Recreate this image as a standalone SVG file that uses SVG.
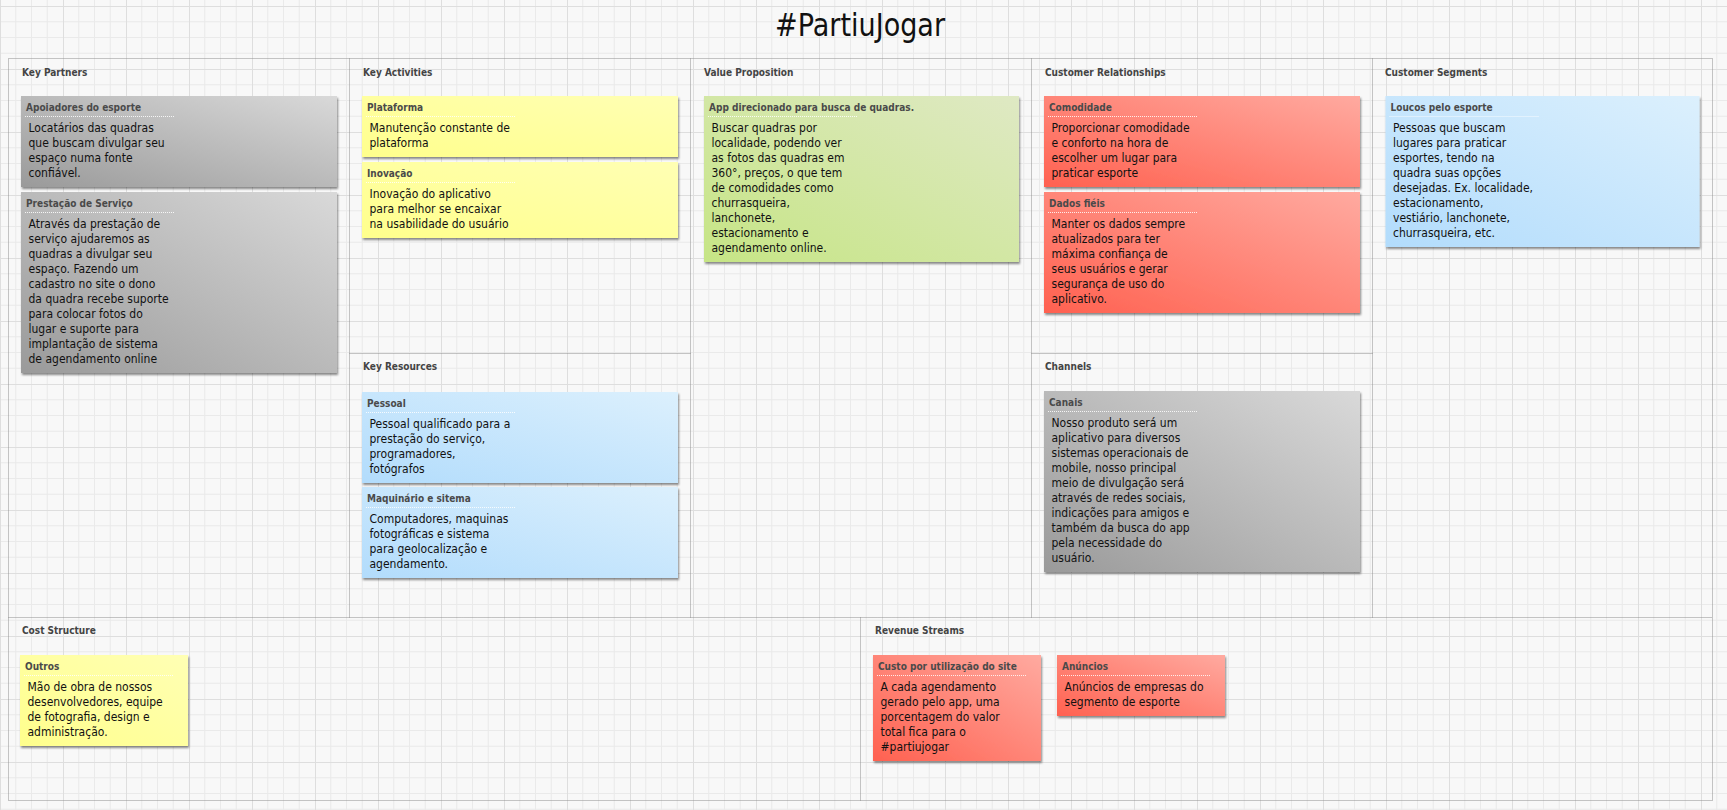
<svg xmlns="http://www.w3.org/2000/svg" width="1727" height="810" viewBox="0 0 1727 810">
<defs>
<pattern id="grid" patternUnits="userSpaceOnUse" x="0" y="6" width="63" height="63">
<rect width="63" height="63" fill="#f8f8f8"/>
<path d="M15.75 0V63M31.5 0V63M47.25 0V63M0 15.75H63M0 31.5H63M0 47.25H63" stroke="#eaeaea" stroke-width="1" fill="none"/>
<path d="M0.5 0V63M0 0.5H63" stroke="#dedede" stroke-width="1" fill="none"/>
</pattern>
<linearGradient id="gGrey" x1="0" y1="1" x2="1" y2="0"><stop offset="0" stop-color="#9a9a9a"/><stop offset="1" stop-color="#d9d9d9"/></linearGradient>
<linearGradient id="gYellow" x1="0" y1="1" x2="1" y2="0"><stop offset="0" stop-color="#ffff8c"/><stop offset="1" stop-color="#ffffb4"/></linearGradient>
<linearGradient id="gGreen" x1="0" y1="1" x2="1" y2="0"><stop offset="0" stop-color="#c6e585"/><stop offset="1" stop-color="#dfe9c4"/></linearGradient>
<linearGradient id="gRed" x1="0" y1="1" x2="1" y2="0"><stop offset="0" stop-color="#ff6150"/><stop offset="1" stop-color="#ffaaa0"/></linearGradient>
<linearGradient id="gBlue" x1="0" y1="1" x2="1" y2="0"><stop offset="0" stop-color="#b2dcfc"/><stop offset="1" stop-color="#dcf0fd"/></linearGradient>
<filter id="shadow" x="-5%" y="-5%" width="112%" height="120%">
<feDropShadow dx="1" dy="2" stdDeviation="1.2" flood-color="#000" flood-opacity="0.45"/>
</filter>
</defs>
<style>
.sec{fill:none;stroke:#8f8f8f;stroke-width:1;stroke-dasharray:1 1}
.lbl{font-family:"DejaVu Sans Condensed","DejaVu Sans",sans-serif;font-stretch:condensed;font-weight:bold;font-size:10px;fill:#444}
.hd{font-family:"DejaVu Sans Condensed","DejaVu Sans",sans-serif;font-stretch:condensed;font-weight:bold;font-size:10px;fill:#4a4a4a}
.bd{font-family:"DejaVu Sans Condensed","DejaVu Sans",sans-serif;font-stretch:condensed;font-size:12px;fill:#111}
.sep{stroke:#ffffff;stroke-opacity:0.85;stroke-width:1;stroke-dasharray:1 1}
.card{filter:url(#shadow)}
.title{font-family:"DejaVu Sans",sans-serif;font-weight:normal;font-size:32px;fill:#111}
</style>
<rect width="1727" height="810" fill="url(#grid)"/>
<text class="title" x="775" y="36" textLength="170" lengthAdjust="spacingAndGlyphs">#PartiuJogar</text>

<g id="sections">
<rect class="sec" x="8.5" y="58.5" width="1704" height="742"/>
<path class="sec" d="M349.5 58.5V617.5M690.5 58.5V617.5M1031.5 58.5V617.5M1372.5 58.5V617.5M8.5 617.5H1712.5M349.5 353.5H690.5M1031.5 353.5H1372.5M860.5 617.5V800.5"/>
<text class="lbl" x="22" y="75.5">Key Partners</text>
<text class="lbl" x="363" y="75.5">Key Activities</text>
<text class="lbl" x="704" y="75.5">Value Proposition</text>
<text class="lbl" x="1045" y="75.5">Customer Relationships</text>
<text class="lbl" x="1385" y="75.5">Customer Segments</text>
<text class="lbl" x="363" y="370">Key Resources</text>
<text class="lbl" x="1045" y="370">Channels</text>
<text class="lbl" x="22" y="634">Cost Structure</text>
<text class="lbl" x="875" y="634">Revenue Streams</text>
</g>

<g id="kp1">
<rect class="card" x="21" y="96" width="316" height="91" fill="url(#gGrey)"/>
<text class="hd" x="26" y="110.5">Apoiadores do esporte</text>
<line class="sep" x1="25" y1="116.5" x2="174" y2="116.5"/>
<text class="bd"><tspan x="28.5" y="132">Locatários das quadras</tspan><tspan x="28.5" y="147">que buscam divulgar seu</tspan><tspan x="28.5" y="162">espaço numa fonte</tspan><tspan x="28.5" y="177">confiável.</tspan></text>
</g>

<g id="kp2">
<rect class="card" x="21" y="192" width="316" height="181" fill="url(#gGrey)"/>
<text class="hd" x="26" y="206.5">Prestação de Serviço</text>
<line class="sep" x1="25" y1="212.5" x2="174" y2="212.5"/>
<text class="bd"><tspan x="28.5" y="228">Através da prestação de</tspan><tspan x="28.5" y="243">serviço ajudaremos as</tspan><tspan x="28.5" y="258">quadras a divulgar seu</tspan><tspan x="28.5" y="273">espaço. Fazendo um</tspan><tspan x="28.5" y="288">cadastro no site o dono</tspan><tspan x="28.5" y="303">da quadra recebe suporte</tspan><tspan x="28.5" y="318">para colocar fotos do</tspan><tspan x="28.5" y="333">lugar e suporte para</tspan><tspan x="28.5" y="348">implantação de sistema</tspan><tspan x="28.5" y="363">de agendamento online</tspan></text>
</g>

<g id="ka1">
<rect class="card" x="362" y="96" width="316" height="61" fill="url(#gYellow)"/>
<text class="hd" x="367" y="110.5">Plataforma</text>
<line class="sep" x1="366" y1="116.5" x2="515" y2="116.5"/>
<text class="bd"><tspan x="369.5" y="132">Manutenção constante de</tspan><tspan x="369.5" y="147">plataforma</tspan></text>
</g>

<g id="ka2">
<rect class="card" x="362" y="162" width="316" height="76" fill="url(#gYellow)"/>
<text class="hd" x="367" y="176.5">Inovação</text>
<line class="sep" x1="366" y1="182.5" x2="515" y2="182.5"/>
<text class="bd"><tspan x="369.5" y="198">Inovação do aplicativo</tspan><tspan x="369.5" y="213">para melhor se encaixar</tspan><tspan x="369.5" y="228">na usabilidade do usuário</tspan></text>
</g>

<g id="vp1">
<rect class="card" x="704" y="96" width="315" height="166" fill="url(#gGreen)"/>
<text class="hd" x="709" y="110.5">App direcionado para busca de quadras.</text>
<line class="sep" x1="708" y1="116.5" x2="857" y2="116.5"/>
<text class="bd"><tspan x="711.5" y="132">Buscar quadras por</tspan><tspan x="711.5" y="147">localidade, podendo ver</tspan><tspan x="711.5" y="162">as fotos das quadras em</tspan><tspan x="711.5" y="177">360°, preços, o que tem</tspan><tspan x="711.5" y="192">de comodidades como</tspan><tspan x="711.5" y="207">churrasqueira,</tspan><tspan x="711.5" y="222">lanchonete,</tspan><tspan x="711.5" y="237">estacionamento e</tspan><tspan x="711.5" y="252">agendamento online.</tspan></text>
</g>

<g id="cr1">
<rect class="card" x="1044" y="96" width="316" height="91" fill="url(#gRed)"/>
<text class="hd" x="1049" y="110.5">Comodidade</text>
<line class="sep" x1="1048" y1="116.5" x2="1197" y2="116.5"/>
<text class="bd"><tspan x="1051.5" y="132">Proporcionar comodidade</tspan><tspan x="1051.5" y="147">e conforto na hora de</tspan><tspan x="1051.5" y="162">escolher um lugar para</tspan><tspan x="1051.5" y="177">praticar esporte</tspan></text>
</g>

<g id="cr2">
<rect class="card" x="1044" y="192" width="316" height="121" fill="url(#gRed)"/>
<text class="hd" x="1049" y="206.5">Dados fiéis</text>
<line class="sep" x1="1048" y1="212.5" x2="1197" y2="212.5"/>
<text class="bd"><tspan x="1051.5" y="228">Manter os dados sempre</tspan><tspan x="1051.5" y="243">atualizados para ter</tspan><tspan x="1051.5" y="258">máxima confiança de</tspan><tspan x="1051.5" y="273">seus usuários e gerar</tspan><tspan x="1051.5" y="288">segurança de uso do</tspan><tspan x="1051.5" y="303">aplicativo.</tspan></text>
</g>

<g id="cs1">
<rect class="card" x="1385.5" y="96" width="314" height="151" fill="url(#gBlue)"/>
<text class="hd" x="1390.5" y="110.5">Loucos pelo esporte</text>
<line class="sep" x1="1389.5" y1="116.5" x2="1538.5" y2="116.5"/>
<text class="bd"><tspan x="1393" y="132">Pessoas que buscam</tspan><tspan x="1393" y="147">lugares para praticar</tspan><tspan x="1393" y="162">esportes, tendo na</tspan><tspan x="1393" y="177">quadra suas opções</tspan><tspan x="1393" y="192">desejadas. Ex. localidade,</tspan><tspan x="1393" y="207">estacionamento,</tspan><tspan x="1393" y="222">vestiário, lanchonete,</tspan><tspan x="1393" y="237">churrasqueira, etc.</tspan></text>
</g>

<g id="kr1">
<rect class="card" x="362" y="392" width="316" height="91" fill="url(#gBlue)"/>
<text class="hd" x="367" y="406.5">Pessoal</text>
<line class="sep" x1="366" y1="412.5" x2="515" y2="412.5"/>
<text class="bd"><tspan x="369.5" y="428">Pessoal qualificado para a</tspan><tspan x="369.5" y="443">prestação do serviço,</tspan><tspan x="369.5" y="458">programadores,</tspan><tspan x="369.5" y="473">fotógrafos</tspan></text>
</g>

<g id="kr2">
<rect class="card" x="362" y="487" width="316" height="91" fill="url(#gBlue)"/>
<text class="hd" x="367" y="501.5">Maquinário e sitema</text>
<line class="sep" x1="366" y1="507.5" x2="515" y2="507.5"/>
<text class="bd"><tspan x="369.5" y="523">Computadores, maquinas</tspan><tspan x="369.5" y="538">fotográficas e sistema</tspan><tspan x="369.5" y="553">para geolocalização e</tspan><tspan x="369.5" y="568">agendamento.</tspan></text>
</g>

<g id="ch1">
<rect class="card" x="1044" y="391" width="316" height="181" fill="url(#gGrey)"/>
<text class="hd" x="1049" y="405.5">Canais</text>
<line class="sep" x1="1048" y1="411.5" x2="1197" y2="411.5"/>
<text class="bd"><tspan x="1051.5" y="427">Nosso produto será um</tspan><tspan x="1051.5" y="442">aplicativo para diversos</tspan><tspan x="1051.5" y="457">sistemas operacionais de</tspan><tspan x="1051.5" y="472">mobile, nosso principal</tspan><tspan x="1051.5" y="487">meio de divulgação será</tspan><tspan x="1051.5" y="502">através de redes sociais,</tspan><tspan x="1051.5" y="517">indicações para amigos e</tspan><tspan x="1051.5" y="532">também da busca do app</tspan><tspan x="1051.5" y="547">pela necessidade do</tspan><tspan x="1051.5" y="562">usuário.</tspan></text>
</g>

<g id="cost1">
<rect class="card" x="20" y="655" width="168" height="91" fill="url(#gYellow)"/>
<text class="hd" x="25" y="669.5">Outros</text>
<line class="sep" x1="24" y1="675.5" x2="173" y2="675.5"/>
<text class="bd"><tspan x="27.5" y="691">Mão de obra de nossos</tspan><tspan x="27.5" y="706">desenvolvedores, equipe</tspan><tspan x="27.5" y="721">de fotografia, design e</tspan><tspan x="27.5" y="736">administração.</tspan></text>
</g>

<g id="rs1">
<rect class="card" x="873" y="655" width="168" height="106" fill="url(#gRed)"/>
<text class="hd" x="878" y="669.5">Custo por utilização do site</text>
<line class="sep" x1="877" y1="675.5" x2="1026" y2="675.5"/>
<text class="bd"><tspan x="880.5" y="691">A cada agendamento</tspan><tspan x="880.5" y="706">gerado pelo app, uma</tspan><tspan x="880.5" y="721">porcentagem do valor</tspan><tspan x="880.5" y="736">total fica para o</tspan><tspan x="880.5" y="751">#partiujogar</tspan></text>
</g>

<g id="rs2">
<rect class="card" x="1057" y="655" width="168" height="61" fill="url(#gRed)"/>
<text class="hd" x="1062" y="669.5">Anúncios</text>
<line class="sep" x1="1061" y1="675.5" x2="1210" y2="675.5"/>
<text class="bd"><tspan x="1064.5" y="691">Anúncios de empresas do</tspan><tspan x="1064.5" y="706">segmento de esporte</tspan></text>
</g>

<g id="connectors"></g>
</svg>
